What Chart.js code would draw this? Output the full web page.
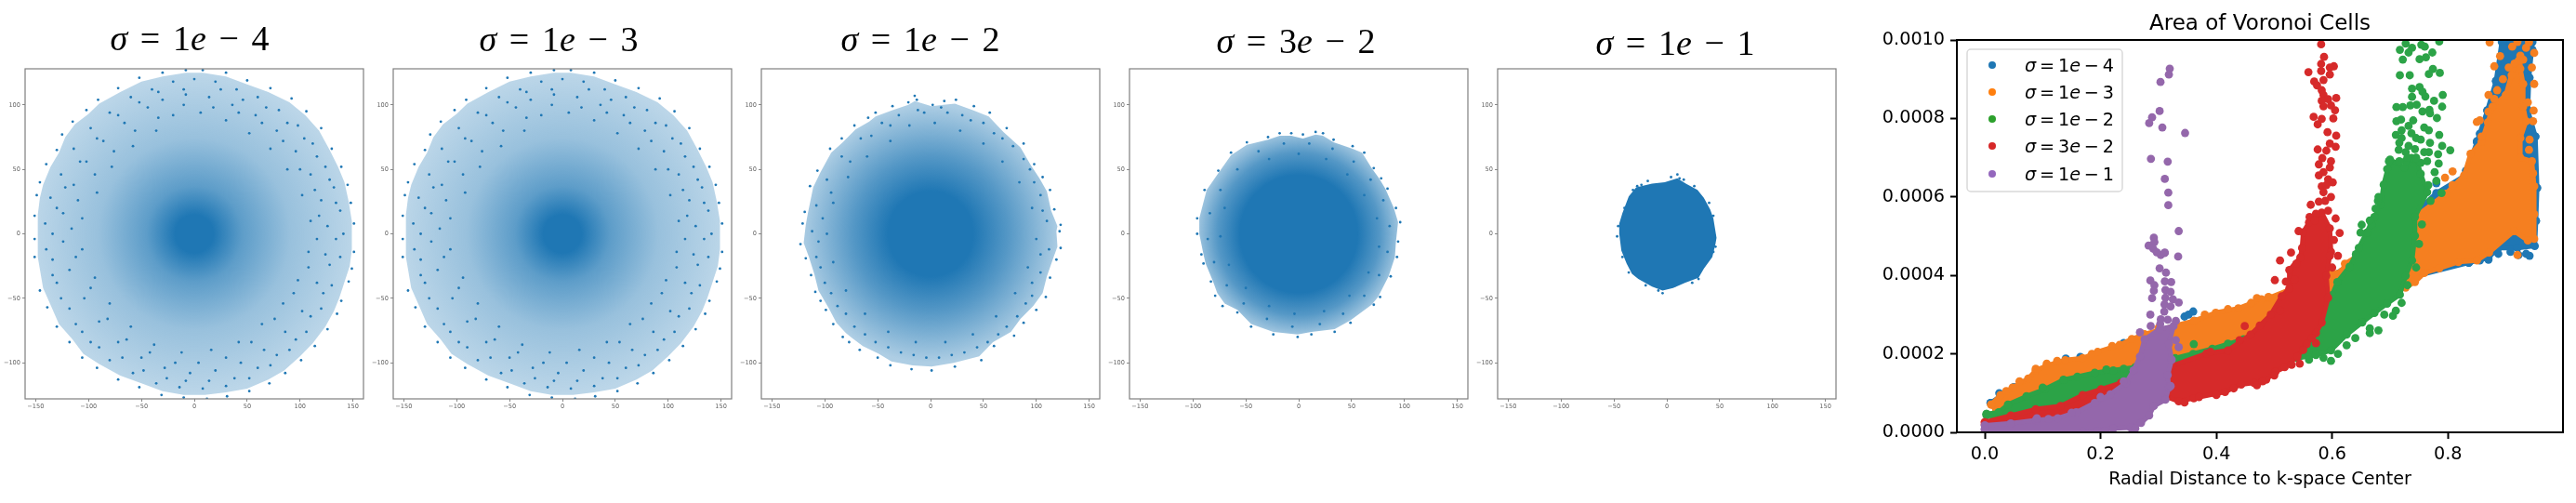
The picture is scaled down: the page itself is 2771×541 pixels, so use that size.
<!DOCTYPE html>
<html>
<head>
<meta charset="utf-8">
<title>Area of Voronoi Cells</title>
<script src="https://cdn.jsdelivr.net/npm/chart.js@4/dist/chart.umd.min.js"></script>
<style>
    html, body { margin: 0; background: #fff; }
    #page { position: relative; width: 2771px; height: 541px; overflow: hidden; }
    canvas { position: absolute; top: 0; }
</style>
</head>
<body>
<div id="page"></div>
<script>
// Labels
const sigmaLabels = ['σ = 1e − 4', 'σ = 1e − 3', 'σ = 1e − 2', 'σ = 3e − 2', 'σ = 1e − 1'];
const panelXTicks = [-150, -100, -50, 0, 50, 100, 150];
const panelYTicks = [-100, -50, 0, 50, 100];
const areaXTicks = [0, 0.2, 0.4, 0.6, 0.8];
const areaYTicks = [0, 0.0002, 0.0004, 0.0006, 0.0008, 0.001];
const areaTitle = 'Area of Voronoi Cells';
const areaXLabel = 'Radial Distance to k-space Center';

// k-space samples, estimated by eye as x,y pairs. There are thousands of dots in the original,
// so each disc keeps its outline plus a sample of dots, and a tint stands in for the rest.
const outline1e4 = [-8,125, 8,125, 30,122, 50,116, 70,110, 90,102, 105,92, 118,80, 128,65, 136,52, 142,40, 146,25, 149,10, 149,-12, 147,-25, 143,-35, 137,-50, 132,-60, 124,-72, 112,-85, 100,-95, 85,-106, 70,-113, 50,-120, 30,-123, 10,-125, -10,-125, -30,-122, -50,-116, -70,-110, -90,-101, -105,-93, -115,-82, -128,-70, -136,-55, -143,-42, -148,-18, -148,-5, -148,15, -146,28, -143,38, -136,52, -128,63, -122,75, -113,85, -100,93, -90,101, -70,110, -50,118, -30,122];
const sample1e4 = [-8,127, 8,127, 30,125, 50,119, 72,113, 92,105, 106,95, 120,82, 130,66, 139,52, 145,38, 148,24, 151,8, 151,-14, 149,-27, 146,-37, 139,-52, 135,-62, 126,-74, 114,-87, 101,-98, 86,-108, 71,-116, 52,-122, 31,-126, 12,-128, -10,-127, -31,-125, -52,-119, -72,-113, -92,-104, -106,-96, -118,-84, -130,-72, -139,-57, -146,-44, -151,-18, -151,-4, -151,14, -149,30, -146,40, -140,54, -130,65, -125,77, -115,87, -102,96, -91,104, -72,113, -52,121, -30,125,
    -20,118, 0,120, 20,118, 40,112, 60,106, 80,96, 98,84, 112,70, 124,52, 132,36, 138,18, 141,0, 138,-18, 130,-40, 120,-58, 106,-76, 90,-90, 72,-102, 52,-112, 30,-118, 8,-120, -14,-119, -36,-116, -58,-108, -80,-98, -98,-84, -112,-70, -126,-50, -134,-32, -140,-12, -141,8, -136,28, -126,46, -114,66, -98,82, -80,94, -60,106, -40,112,
    -30,104, -8,108, 14,106, 36,100, 58,92, 78,80, 96,64, 110,46, 120,26, 126,6, 124,-16, 116,-38, 102,-60, 86,-76, 66,-90, 44,-100, 20,-106, -4,-108, -28,-104, -50,-96, -72,-84, -90,-68, -104,-50, -118,-28, -124,-6, -124,16, -114,38, -102,56, -86,72, -66,86, -44,98,
    -20,92, 6,94, 30,88, 52,78, 72,66, 88,50, 102,30, 110,10, 108,-14, 98,-36, 84,-54, 64,-70, 42,-84, 16,-90, -12,-92, -38,-86, -60,-72, -80,-54, -94,-34, -106,-12, -106,12, -92,32, -78,52, -58,68, -36,80,
    -10,112, 25,112, 46,104, 68,98, 88,86, 104,74, 116,60, 128,42, 134,24, 134,-4, 128,-24, 122,-46, 110,-64, 96,-82, 78,-94, 60,-104, 38,-112, 14,-114, -8,-114, -26,-112, -48,-106, -68,-96, -90,-88, -106,-76, -118,-58, -130,-38, -134,-20, -134,0, -130,20, -122,36, -108,56, -92,74, -72,92, -52,102, -34,110,
    -10,100, 18,98, 42,94, 64,86, 84,72, 100,50, 114,34, 118,14, 116,-4, 108,-26, 94,-46, 76,-66, 54,-84, 30,-96, 4,-100, -18,-100, -42,-92, -64,-82, -82,-66, -98,-42, -112,-18, -116,4, -110,26, -94,46, -76,64, -56,80, -34,90];
const outline1e2 = [-15,103, -21,100, -36,96, -52,91, -58,87, -71,81, -83,71, -94,63, -104,48, -111,36, -116,16, -118,7, -120,-7, -115,-18, -110,-31, -106,-44, -101,-51, -96,-58, -89,-69, -80,-77, -74,-81, -64,-87, -49,-93, -37,-99, -17,-102, 1,-103, 22,-100, 46,-95, 59,-84, 76,-76, 85,-66, 97,-56, 106,-46, 110,-33, 116,-19, 120,-10, 119,2, 120,6, 114,18, 110,33, 103,43, 95,53, 85,67, 69,79, 55,91, 40,96, 23,101, 12,100, 1,99];
const sample1e2 = [-15,107, -13,104, -21,102, -36,99, -52,94, -59,90, -72,84, -84,74, -95,66, -107,49, -114,37, -119,17, -121,8, -123,-8, -118,-19, -113,-32, -109,-45, -104,-52, -99,-59, -92,-70, -83,-80, -77,-84, -67,-90, -50,-96, -38,-102, -18,-105, 1,-106, 23,-103, 48,-98, 60,-87, 79,-79, 88,-69, 100,-59, 109,-49, 113,-34, 119,-20, 123,-11, 122,2, 123,7, 117,19, 113,34, 106,44, 98,54, 88,70, 72,82, 56,94, 41,99, 24,104, 13,103, 2,100,
    -30,92, -6,94, 16,94, 38,88, 60,78, 78,68, 94,50, 104,30, 110,10, 112,-12, 104,-30, 96,-48, 82,-64, 64,-78, 44,-88, 20,-94, -4,-96, -28,-92, -52,-84, -72,-72, -88,-56, -100,-38, -108,-18, -112,2, -108,22, -98,42, -84,60, -66,74, -46,86,
    -20,84, 4,86, 28,80, 50,70, 68,56, 84,40, 96,20, 100,-4, 92,-26, 80,-46, 62,-64, 40,-78, 14,-84, -14,-84, -40,-76, -62,-62, -80,-44, -92,-22, -98,0, -92,24, -78,44, -60,60, -38,72,
    -12,96, 10,98, 30,92, 50,86, 68,74, 88,58, 98,40, 106,18, 104,-16, 96,-38, 90,-54, 72,-72, 54,-84, 32,-92, 8,-96, -16,-94, -40,-88, -62,-78, -80,-62, -94,-46, -104,-26, -106,-6, -102,12, -94,32, -76,56, -56,76, -38,84];
const outline3e2 = [16,77, 4,74, -7,76, -18,76, -29,73, -49,69, -64,61, -76,47, -87,34, -94,12, -94,0, -90,-16, -88,-23, -81,-37, -77,-46, -70,-54, -58,-59, -45,-70, -24,-76, -1,-78, 12,-76, 34,-74, 49,-67, 69,-55, 75,-49, 85,-33, 91,-18, 92,-6, 94,9, 90,20, 82,35, 76,43, 69,51, 60,63, 51,66, 33,71, 23,76];
const sample3e2 = [16,79, 4,77, -7,78, -18,78, -29,75, -49,71, -64,63, -76,49, -89,34, -96,12, -96,0, -92,-16, -90,-23, -83,-37, -79,-48, -72,-56, -58,-61, -45,-72, -24,-78, -1,-80, 12,-78, 34,-76, 49,-69, 71,-55, 77,-49, 87,-33, 93,-18, 94,-6, 96,9, 92,20, 84,35, 78,43, 71,51, 62,63, 51,68, 33,73, 23,78,
    -38,64, -14,70, 10,70, 32,66, 52,56, 68,42, 80,26, 86,6, 84,-14, 76,-32, 62,-48, 42,-62, 20,-70, -6,-72, -30,-66, -52,-54, -68,-40, -80,-22, -86,-4, -84,16, -74,34, -58,50,
    -28,58, 0,62, 26,58, 46,46, 62,30, 74,12, 76,-10, 66,-30, 48,-48, 24,-60, -4,-62, -28,-56, -50,-42, -66,-24, -74,-2, -70,20];
const outline1e1 = [10,43, -2,40, -14,39, -29,36, -36,29, -42,16, -45,8, -45,0, -43,-13, -38,-23, -33,-31, -27,-35, -14,-41, -4,-44, 6,-42, 17,-38, 30,-34, 35,-27, 43,-18, 46,-8, 47,-3, 46,2, 44,12, 41,19, 35,28, 29,34, 18,39];
const sample1e1 = [10,46, 12,43, -24,38, -28,37, -18,41, 4,44, 16,42, 26,37, 40,24, 44,14, 46,-10, 44,-14, 30,-35, 24,-38, 8,-40, -8,-44, -4,-46, -20,-40, -36,-30, -42,-18, -46,6, -47,-2, -40,20, -32,34];

// Area of the Voronoi cells: band outlines and stray dots as x,y pairs, y in units of 1e-4
const blueBand = [.01,.75, .05,1.15, .11,1.65, .165,1.85, .24,2.2, .33,2.68, .362,2.84, .44,3.1, .48,3.34, .6,4, .63,4.25, .7,5, .78,6.1, .83,6.55, .85,7.4, .868,8.2, .883,8.95, .893,9.95, .946,9.95, .94,9.04, .938,8.21, .951,7.54, .954,6.23, .952,5.39, .95,4.75, .92,4.7, .887,4.7, .87,4.45, .836,4.32, .75,4, .7,3.5, .5,2.5, .3,1.8, .1,1, .02,.6];
const blueDots = [.896,9.83, .891,9.26, .883,8.96, .868,8.21, .855,7.61, .85,7.42, .842,6.98, .831,6.67, .78,6.35, .954,6.23, .951,7.54, .938,8.21, .941,9.04, .946,9.75, .933,7.14, .895,9.98, .952,5.39, .887,4.55, .908,4.6, .935,4.55, .922,4.52, .941,4.5, .836,4.32, .855,4.38, .87,4.4, .345,2.95, .36,3.08, .352,3, .24,2.28, .14,1.88, .165,1.92, .025,1];
const orangeBand = [.011,.71, .027,.95, .048,1.14, .075,1.37, .088,1.58, .107,1.7, .139,1.84, .169,1.89, .195,2.05, .233,2.23, .254,2.38, .276,2.5, .329,2.72, .361,2.84, .399,3.05, .438,3.16, .478,3.39, .491,3.43, .598,4.06, .617,4.1, .622,4.3, .7,5, .796,6.08, .828,6.55, .839,7.1, .858,7.4, .869,7.9, .877,8.3, .9,8.6, .915,9.4, .925,9.6, .925,9.27, .93,8.88, .93,8.3, .935,7.93, .925,7.5, .925,7, .945,6.91, .949,6.27, .949,5.56, .949,4.93, .938,4.89, .914,5.13, .871,4.58, .85,4.38, .818,4.34, .785,4.18, .759,4.06, .743,3.83, .727,3.69, .7,3.6, .5,2.5, .3,1.8, .1,1, .02,.55];
const orangeDots = [.92,4.52, .808,6.65, .795,6.49, .808,6.3, .85,7.91, .855,7.95, .88,9.33, .872,9.94, .107,1.75, .949,8.88, .938,8.41, .947,7.93, .941,7.46, .949,9.67, .93,9.5, .885,8.72, .89,9.59, .911,9.83, .94,9.94, .935,9.8, .92,9.95, .905,9.3, .895,9, .88,8.5, .87,8.17, .858,7.54, .87,8.6, .91,9.1, .945,9.3, .948,8.2, .94,7.2, .947,6.6, .088,1.62, .06,1.3, .037,1.05, .125,1.82, .185,2, .22,2.2, .3,2.66, .38,3, .42,3.14, .46,3.3, .49,3.45, .47,3.42];
const greenBand = [.003,.47, .024,.51, .04,.71, .072,.92, .104,1.1, .136,1.34, .19,1.52, .222,1.58, .26,1.66, .329,1.89, .393,2.13, .447,2.37, .5,2.8, .6,3.5, .609,3.83, .63,4.22, .641,4.54, .646,4.7, .673,5.49, .684,5.8, .689,6.31, .7,6.95, .725,6.75, .745,7, .753,6.59, .764,6.12, .743,5.49, .743,5.01, .738,4.38, .727,3.99, .717,3.51, .695,3.28, .673,3.04, .652,2.8, .625,2.49, .598,2.09, .572,1.97, .54,1.89, .45,1.6, .3,1.2, .2,.9, .1,.6, .03,.38, .003,.43];
const greenDots = [.361,2.25, .727,9.91, .754,9.88, .76,9.83, .785,9.96, .717,9.75, .738,9.8, .732,9.68, .722,9.5, .751,9.51, .762,9.56, .773,9.68, .717,9.1, .734,9.1, .774,9.26, .767,9.13, .786,9.16, .738,8.76, .751,8.8, .756,8.68, .761,8.56, .738,8.55, .791,8.6, .776,8.45, .79,8.3, .722,8.29, .711,8.29, .735,8.33, .746,8.35, .756,8.18, .768,8.22, .769,8.13, .781,8.01, .711,7.93, .719,7.97, .732,7.81, .759,7.77, .767,7.7, .71,7.58, .785,7.58, .737,7.62, .753,7.46, .769,7.38, .79,7.3, .804,7.19, .743,7.22, .727,7.14, .783,7.09, .767,7.14, .737,6.99, .784,6.85, .753,6.87, .698,6.91, .764,6.91, .777,6.63, .695,6.71, .679,5.9, .78,6.41, .789,6.1, .766,6.3, .651,5.29, .668,5.29, .66,5.09, .649,5.09, .716,7.38, .732,7.3, .745,6.99, .727,6.91, .759,7.14, .716,6.91, .72,7.7, .74,7.95, .745,7.5, .705,2.97, .68,2.6, .665,2.53, .625,2.22, .598,1.82, .71,3.1, .665,2.65, .64,2.4, .61,2, .56,1.85, .585,1.9, .69,3, .72,3.3, .73,3.75, .745,4.2, .75,4.8, .755,5.3, .77,5.9, .72,7.5, .715,7.2, .73,7, .015,.42, .1,1.14, .16,1.42, .21,1.6, .24,1.62, .36,2, .42,2.26, .675,5.7, .665,5.4, .68,6];
const redBand = [0,.26, .045,.43, .088,.59, .131,.67, .169,.95, .201,1.1, .235,1.26, .324,1.7, .383,2.01, .42,2.09, .459,2.49, .475,2.72, .494,3, .513,3.47, .526,3.67, .526,4.14, .545,4.46, .548,4.7, .55,5.1, .56,5.35, .582,5.6, .596,5.2, .598,4.6, .596,4.5, .59,3.99, .593,3.43, .582,2.8, .572,2.53, .556,2.25, .54,1.93, .518,1.66, .502,1.54, .486,1.34, .465,1.26, .443,1.22, .415,1.03, .361,.87, .335,.79, .313,.91, .25,.4, .1,.2, 0,.2];
const redDots = [.449,2.71, .572,2.27, .544,1.75, .501,3.88, .52,3.84, .51,4.38, .581,9.89, .586,9.57, .581,9.39, .603,9.33, .596,9.3, .581,9.21, .559,9.18, .596,9.12, .585,8.98, .569,8.94, .574,8.84, .582,8.72, .585,8.6, .593,8.49, .607,8.52, .582,8.45, .585,8.31, .598,8.33, .605,8.21, .568,8.04, .582,7.99, .602,8, .575,7.85, .592,7.65, .607,7.56, .596,7.36, .606,7.28, .575,7.21, .59,7.18, .583,6.99, .598,6.91, .577,6.83, .596,6.75, .585,6.63, .577,6.55, .593,6.45, .601,6.37, .582,6.27, .585,6.12, .598,6, .563,5.8, .577,5.88, .593,5.65, .572,5.57, .606,5.45, .542,5.13, .613,5.08, .561,5.49, .529,4.58, .603,4.9, .59,6.3, .588,5.9, .4,.95, .43,1.12, .37,.9, .345,.76, .47,1.2, .5,1.45, .53,1.72, .55,2.1, .565,2.4, .48,1.3, .39,2.05, .44,2.35, .51,3.1, .535,3.9, .538,4.3, .57,5.4, .61,4.5, .6,4.2];
const purpleBand = [0,.08, 0,.18, .045,.23, .088,.31, .126,.36, .158,.51, .19,.75, .217,.97, .244,1.26, .257,1.58, .268,1.93, .276,2.37, .302,2.63, .326,2.71, .318,2.25, .323,1.85, .316,1.46, .318,1.14, .312,.83, .292,.67, .284,.43, .27,.24, .252,.12, .222,.1, .195,.04, .169,.02, 0,.02];
const purpleDots = [.3195,9.27, .318,9.12, .3035,8.93, .302,8.19, .289,8.03, .284,7.88, .3067,7.77, .346,7.63, .287,6.97, .316,6.9, .311,6.46, .317,6.11, .317,5.79, .335,5.13, .292,4.96, .293,4.85, .283,4.76, .291,4.68, .311,4.58, .304,4.52, .3105,4.57, .297,4.59, .334,4.48, .302,4.18, .313,4.07, .286,3.87, .293,3.75, .311,3.85, .322,3.83, .292,3.61, .312,3.63, .321,3.58, .289,3.42, .312,3.43, .325,3.39, .335,3.31, .3105,3.26, .321,3.21, .31,3.08, .286,3, .304,2.88, .316,2.87, .33,2.84, .2866,2.71, .303,2.76, .268,2.55, .33,2.35, .335,2.17, .321,1.18, .09,.36, .11,.34, .15,.5, .2,.9, .24,1.3, .26,.1];

// Style and layout
const BLUE = '#1f77b4';
const seriesColors = ['#1f77b4', '#ff7f0e', '#2ca02c', '#d62728', '#9467bd'];
const solidColors = ['#1f77b4', '#f57f20', '#2ca347', '#d62a2a', '#9467ab'];
const panelTitleCenter = [204, 601, 990, 1394, 1802];
const panelTitleBase = [54, 55, 55, 57, 59];
const PANEL_STEP = 396;
// Radial tint of each disc: [distance from centre 0..1, opacity]
const discStops = [
    [[0, 1], [0.12, 1], [0.3, 0.72], [0.6, 0.46], [1, 0.3]],
    [[0, 1], [0.12, 1], [0.3, 0.72], [0.6, 0.46], [1, 0.3]],
    [[0, 1], [0.33, 1], [0.6, 0.76], [1, 0.36]],
    [[0, 1], [0.58, 1], [0.8, 0.76], [1, 0.42]],
    [[0, 1], [1, 1]]
];

function toPoints(flat, yUnit = 1) {
    const points = [];
    for (let i = 0; i < flat.length; i += 2) {
        points.push({ x: flat[i], y: flat[i + 1] * yUnit });
    }
    return points;
}

function closed(points) {
    return [...points, points[0]];
}

// Draws "σ = 1e − 4" with the letters in italics, the way math text sets it
function drawMath(ctx, text, x, baseline, size, family, gap, centered) {
    const tokens = text.split(' ');
    const runs = [];
    let width = 0;
    tokens.forEach((token, t) => {
        for (const ch of token) {
            const italic = ch === 'σ' || ch === 'e';
            const font = `${italic ? 'italic ' : ''}${size}px ${family}`;
            ctx.font = font;
            const w = ctx.measureText(ch).width;
            runs.push({ ch, font, at: width });
            width += w;
        }
        if (t < tokens.length - 1) width += gap * size;
    });
    const left = centered ? x - width / 2 : x;
    ctx.fillStyle = '#000';
    ctx.textAlign = 'left';
    ctx.textBaseline = 'alphabetic';
    runs.forEach(run => {
        ctx.font = run.font;
        ctx.fillText(run.ch, left + run.at, baseline);
    });
}

const framePlugin = {
    id: 'frame',
    afterDatasetsDraw(chart, args, opts) {
        const { ctx, chartArea: a } = chart;
        ctx.save();
        ctx.strokeStyle = opts.color;
        ctx.lineWidth = opts.width;
        ctx.strokeRect(a.left, a.top, a.right - a.left, a.bottom - a.top);
        ctx.restore();
    }
};

function discTint(context, stops) {
    const chart = context.chart;
    if (!chart.chartArea) return BLUE;
    const cx = chart.scales.x.getPixelForValue(0);
    const cy = chart.scales.y.getPixelForValue(0);
    const radius = Math.abs(chart.scales.x.getPixelForValue(chart.options.discRadius) - cx);
    const gradient = chart.ctx.createRadialGradient(cx, cy, 0, cx, cy, radius);
    stops.forEach(([at, alpha]) => gradient.addColorStop(at, `rgba(31,119,180,${alpha})`));
    return gradient;
}

// Five small k-space panels
const panelOutlines = [outline1e4, outline1e4, outline1e2, outline3e2, outline1e1];
const panelSamples = [sample1e4, sample1e4, sample1e2, sample3e2, sample1e1];
const panelRadius = [151, 151, 122, 96, 48];

function makePanel(index) {
    const canvas = document.createElement('canvas');
    canvas.style.left = `${index * PANEL_STEP}px`;
    canvas.style.width = `${PANEL_STEP}px`;
    canvas.style.height = '470px';
    canvas.width = PANEL_STEP;
    canvas.height = 470;
    document.getElementById('page').appendChild(canvas);

    const tickFont = { family: 'DejaVu Sans', size: 6.6 };
    new Chart(canvas, {
        type: 'scatter',
        data: {
            datasets: [
                {
                    data: toPoints(panelSamples[index]),
                    pointRadius: 1.4,
                    pointBackgroundColor: BLUE,
                    pointBorderWidth: 0
                },
                {
                    data: closed(toPoints(panelOutlines[index])),
                    showLine: true,
                    fill: 'shape',
                    borderWidth: 0,
                    borderColor: 'transparent',
                    tension: 0,
                    backgroundColor: context => discTint(context, discStops[index]),
                    pointRadius: 0
                }
            ]
        },
        options: {
            discRadius: panelRadius[index],
            responsive: false,
            animation: false,
            layout: { padding: { top: 74, right: 5, left: 0, bottom: 0 } },
            plugins: {
                legend: { display: false },
                tooltip: { enabled: false },
                frame: { color: '#7f7f7f', width: 1.2 }
            },
            scales: {
                x: {
                    min: -160,
                    max: 160,
                    afterBuildTicks: axis => { axis.ticks = panelXTicks.map(value => ({ value })); },
                    afterFit: axis => { axis.height = 41; },
                    border: { display: false },
                    grid: { drawOnChartArea: false, tickLength: 3, tickColor: '#888' },
                    ticks: {
                        font: tickFont,
                        color: '#666',
                        padding: 1,
                        maxRotation: 0,
                        autoSkip: false,
                        callback: value => String(value).replace('-', '−')
                    }
                },
                y: {
                    min: -128,
                    max: 128,
                    afterBuildTicks: axis => { axis.ticks = panelYTicks.map(value => ({ value })); },
                    afterFit: axis => { axis.width = 27; },
                    border: { display: false },
                    grid: { drawOnChartArea: false, tickLength: 3, tickColor: '#888' },
                    ticks: {
                        font: tickFont,
                        color: '#666',
                        padding: 2,
                        autoSkip: false,
                        callback: value => String(value).replace('-', '−')
                    }
                }
            }
        },
        plugins: [framePlugin, {
            id: 'panelTitle',
            afterDraw(chart) {
                drawMath(chart.ctx, sigmaLabels[index], panelTitleCenter[index] - index * PANEL_STEP,
                    panelTitleBase[index], 38, '"Liberation Serif"', 0.36, true);
            }
        }]
    });
}

// Right-hand chart
function makeAreaChart() {
    const canvas = document.createElement('canvas');
    canvas.style.left = '2000px';
    canvas.style.width = '771px';
    canvas.style.height = '541px';
    canvas.width = 771;
    canvas.height = 541;
    document.getElementById('page').appendChild(canvas);

    const bands = [blueBand, orangeBand, greenBand, redBand, purpleBand];
    const dots = [blueDots, orangeDots, greenDots, redDots, purpleDots];
    const datasets = [];
    // Chart.js paints the first dataset last, so purple comes first to stay on top
    for (let i = 4; i >= 0; i--) {
        datasets.push({
            label: sigmaLabels[i],
            data: toPoints(dots[i], 1e-4),
            pointRadius: 4.4,
            pointBackgroundColor: solidColors[i],
            pointBorderWidth: 0
        });
        datasets.push({
            data: closed(toPoints(bands[i], 1e-4)),
            showLine: true,
            fill: 'shape',
            tension: 0,
            borderWidth: 5,
            borderColor: solidColors[i],
            borderJoinStyle: 'round',
            backgroundColor: solidColors[i],
            pointRadius: 4.4,
            pointBackgroundColor: solidColors[i],
            pointBorderWidth: 0
        });
    }

    const font = { family: 'DejaVu Sans', size: 19.2 };
    new Chart(canvas, {
        type: 'scatter',
        data: { datasets },
        options: {
            responsive: false,
            animation: false,
            layout: { padding: { top: 43, right: 14, left: 0, bottom: 0 } },
            plugins: {
                legend: { display: false },
                tooltip: { enabled: false },
                frame: { color: '#000', width: 2 }
            },
            scales: {
                x: {
                    min: -0.0482,
                    max: 0.9987,
                    afterBuildTicks: axis => { axis.ticks = areaXTicks.map(value => ({ value })); },
                    afterFit: axis => { axis.height = 76; },
                    border: { display: false },
                    grid: { drawOnChartArea: false, tickLength: 7, tickColor: '#000', tickWidth: 2 },
                    ticks: { font, color: '#000', padding: 5, maxRotation: 0, callback: value => value.toFixed(1) },
                    title: { display: true, text: areaXLabel, font, color: '#000', padding: { top: 0, bottom: 13 } }
                },
                y: {
                    min: 0,
                    max: 0.001,
                    afterBuildTicks: axis => { axis.ticks = areaYTicks.map(value => ({ value })); },
                    afterFit: axis => { axis.width = 105; },
                    border: { display: false },
                    grid: { drawOnChartArea: false, tickLength: 7, tickColor: '#000', tickWidth: 2 },
                    ticks: { font, color: '#000', padding: 6, callback: value => value.toFixed(4) }
                }
            }
        },
        plugins: [framePlugin, {
            id: 'titleAndLegend',
            afterDraw(chart) {
                const { ctx } = chart;
                ctx.save();
                ctx.font = '23px "DejaVu Sans"';
                ctx.fillStyle = '#000';
                ctx.textAlign = 'center';
                ctx.fillText(areaTitle, 431, 32);

                ctx.beginPath();
                ctx.roundRect(116, 53, 167, 153, 4);
                ctx.fillStyle = 'rgba(255,255,255,0.8)';
                ctx.fill();
                ctx.strokeStyle = '#d9d9d9';
                ctx.lineWidth = 1.5;
                ctx.stroke();

                const rows = [70, 99, 128, 157, 187];
                sigmaLabels.forEach((label, i) => {
                    ctx.beginPath();
                    ctx.arc(143, rows[i], 4, 0, Math.PI * 2);
                    ctx.fillStyle = seriesColors[i];
                    ctx.fill();
                    drawMath(ctx, label, 178, rows[i] + 7, 19.2, '"DejaVu Sans"', 0.2, false);
                });
                ctx.restore();
            }
        }]
    });
}

[0, 1, 2, 3, 4].forEach(makePanel);
makeAreaChart();
</script>
</body>
</html>
